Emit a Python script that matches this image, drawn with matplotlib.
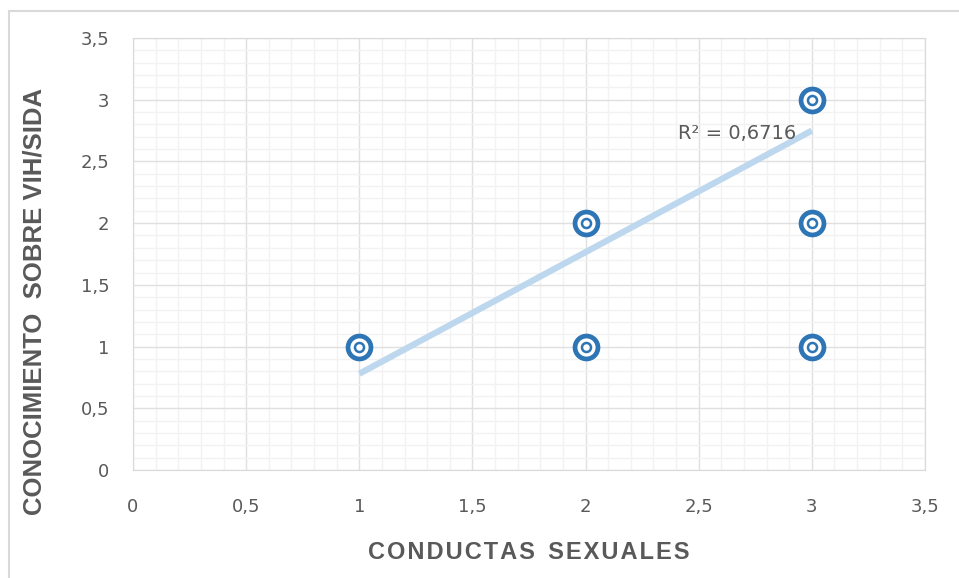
import matplotlib.pyplot as plt
from matplotlib.patches import Rectangle
from matplotlib.ticker import MultipleLocator, FuncFormatter

# data
conductas = [1, 2, 2, 3, 3, 3]
conocimiento = [1, 1, 2, 1, 2, 3]
# trendline as drawn in the chart (Excel linear fit)
trend_x = [1, 3]
trend_slope = 0.985
trend_intercept = -0.205
r2_label = "R² = 0,6716"

GRAY = "#595959"
BLUE = "#2e75b6"

fig = plt.figure(figsize=(9.59, 5.78), dpi=100)
ax = fig.add_axes([133 / 959, 1 - 470 / 578, (925 - 133) / 959, (470 - 38) / 578])

# outer chart border
fig.patches.append(Rectangle((9 / 959, -0.1), 1.2, 1 - 11 / 578 + 0.1, transform=fig.transFigure,
                             fill=False, edgecolor="#d9d9d9", linewidth=1.5))

ax.set_xlim(0, 3.5)
ax.set_ylim(0, 3.5)
ax.xaxis.set_major_locator(MultipleLocator(0.5))
ax.yaxis.set_major_locator(MultipleLocator(0.5))
ax.xaxis.set_minor_locator(MultipleLocator(0.1))
ax.yaxis.set_minor_locator(MultipleLocator(0.1))
ax.grid(which="minor", color="#f2f2f2", linewidth=1)
ax.grid(which="major", color="#e0e0e0", linewidth=1)
ax.set_axisbelow(True)
for s in ax.spines.values():
    s.set_color("#d9d9d9")

fmt = FuncFormatter(lambda v, p: f"{v:g}".replace(".", ","))
ax.xaxis.set_major_formatter(fmt)
ax.yaxis.set_major_formatter(fmt)
ax.tick_params(which="both", length=0, labelsize=13, labelcolor=GRAY)
ax.tick_params(axis="x", pad=20)
ax.tick_params(axis="y", pad=17)

# trendline
ty = [trend_slope * x + trend_intercept for x in trend_x]
ax.plot(trend_x, ty, color="#bdd7ee", linewidth=4.5, solid_capstyle="butt", zorder=2)
ax.text(2.41, 2.73, r2_label, fontsize=14, color=GRAY, ha="left", va="center")

# markers: outer ring, then inner ring
ax.plot(conductas, conocimiento, linestyle="none", marker="o", markersize=16.5,
        markerfacecolor="white", markeredgecolor=BLUE, markeredgewidth=3.4, zorder=3)
ax.plot(conductas, conocimiento, linestyle="none", marker="o", markersize=6.5,
        markerfacecolor="white", markeredgecolor=BLUE, markeredgewidth=1.8, zorder=4)

xlab = "\u200a".join("CONDUCTAS") + "  " + "\u200a".join("SEXUALES")
ax.set_xlabel(xlab, fontsize=17, fontweight="bold", color=GRAY, family="Liberation Sans")
ax.xaxis.set_label_coords(0.5, -0.165)
ax.set_ylabel("CONOCIMIENTO  SOBRE VIH/SIDA", fontsize=18.5, fontweight="bold", color=GRAY,
              family="Liberation Sans", va="center")
ax.yaxis.set_label_coords(-0.124, 0.39)

fig.savefig("out.png", dpi=100)
